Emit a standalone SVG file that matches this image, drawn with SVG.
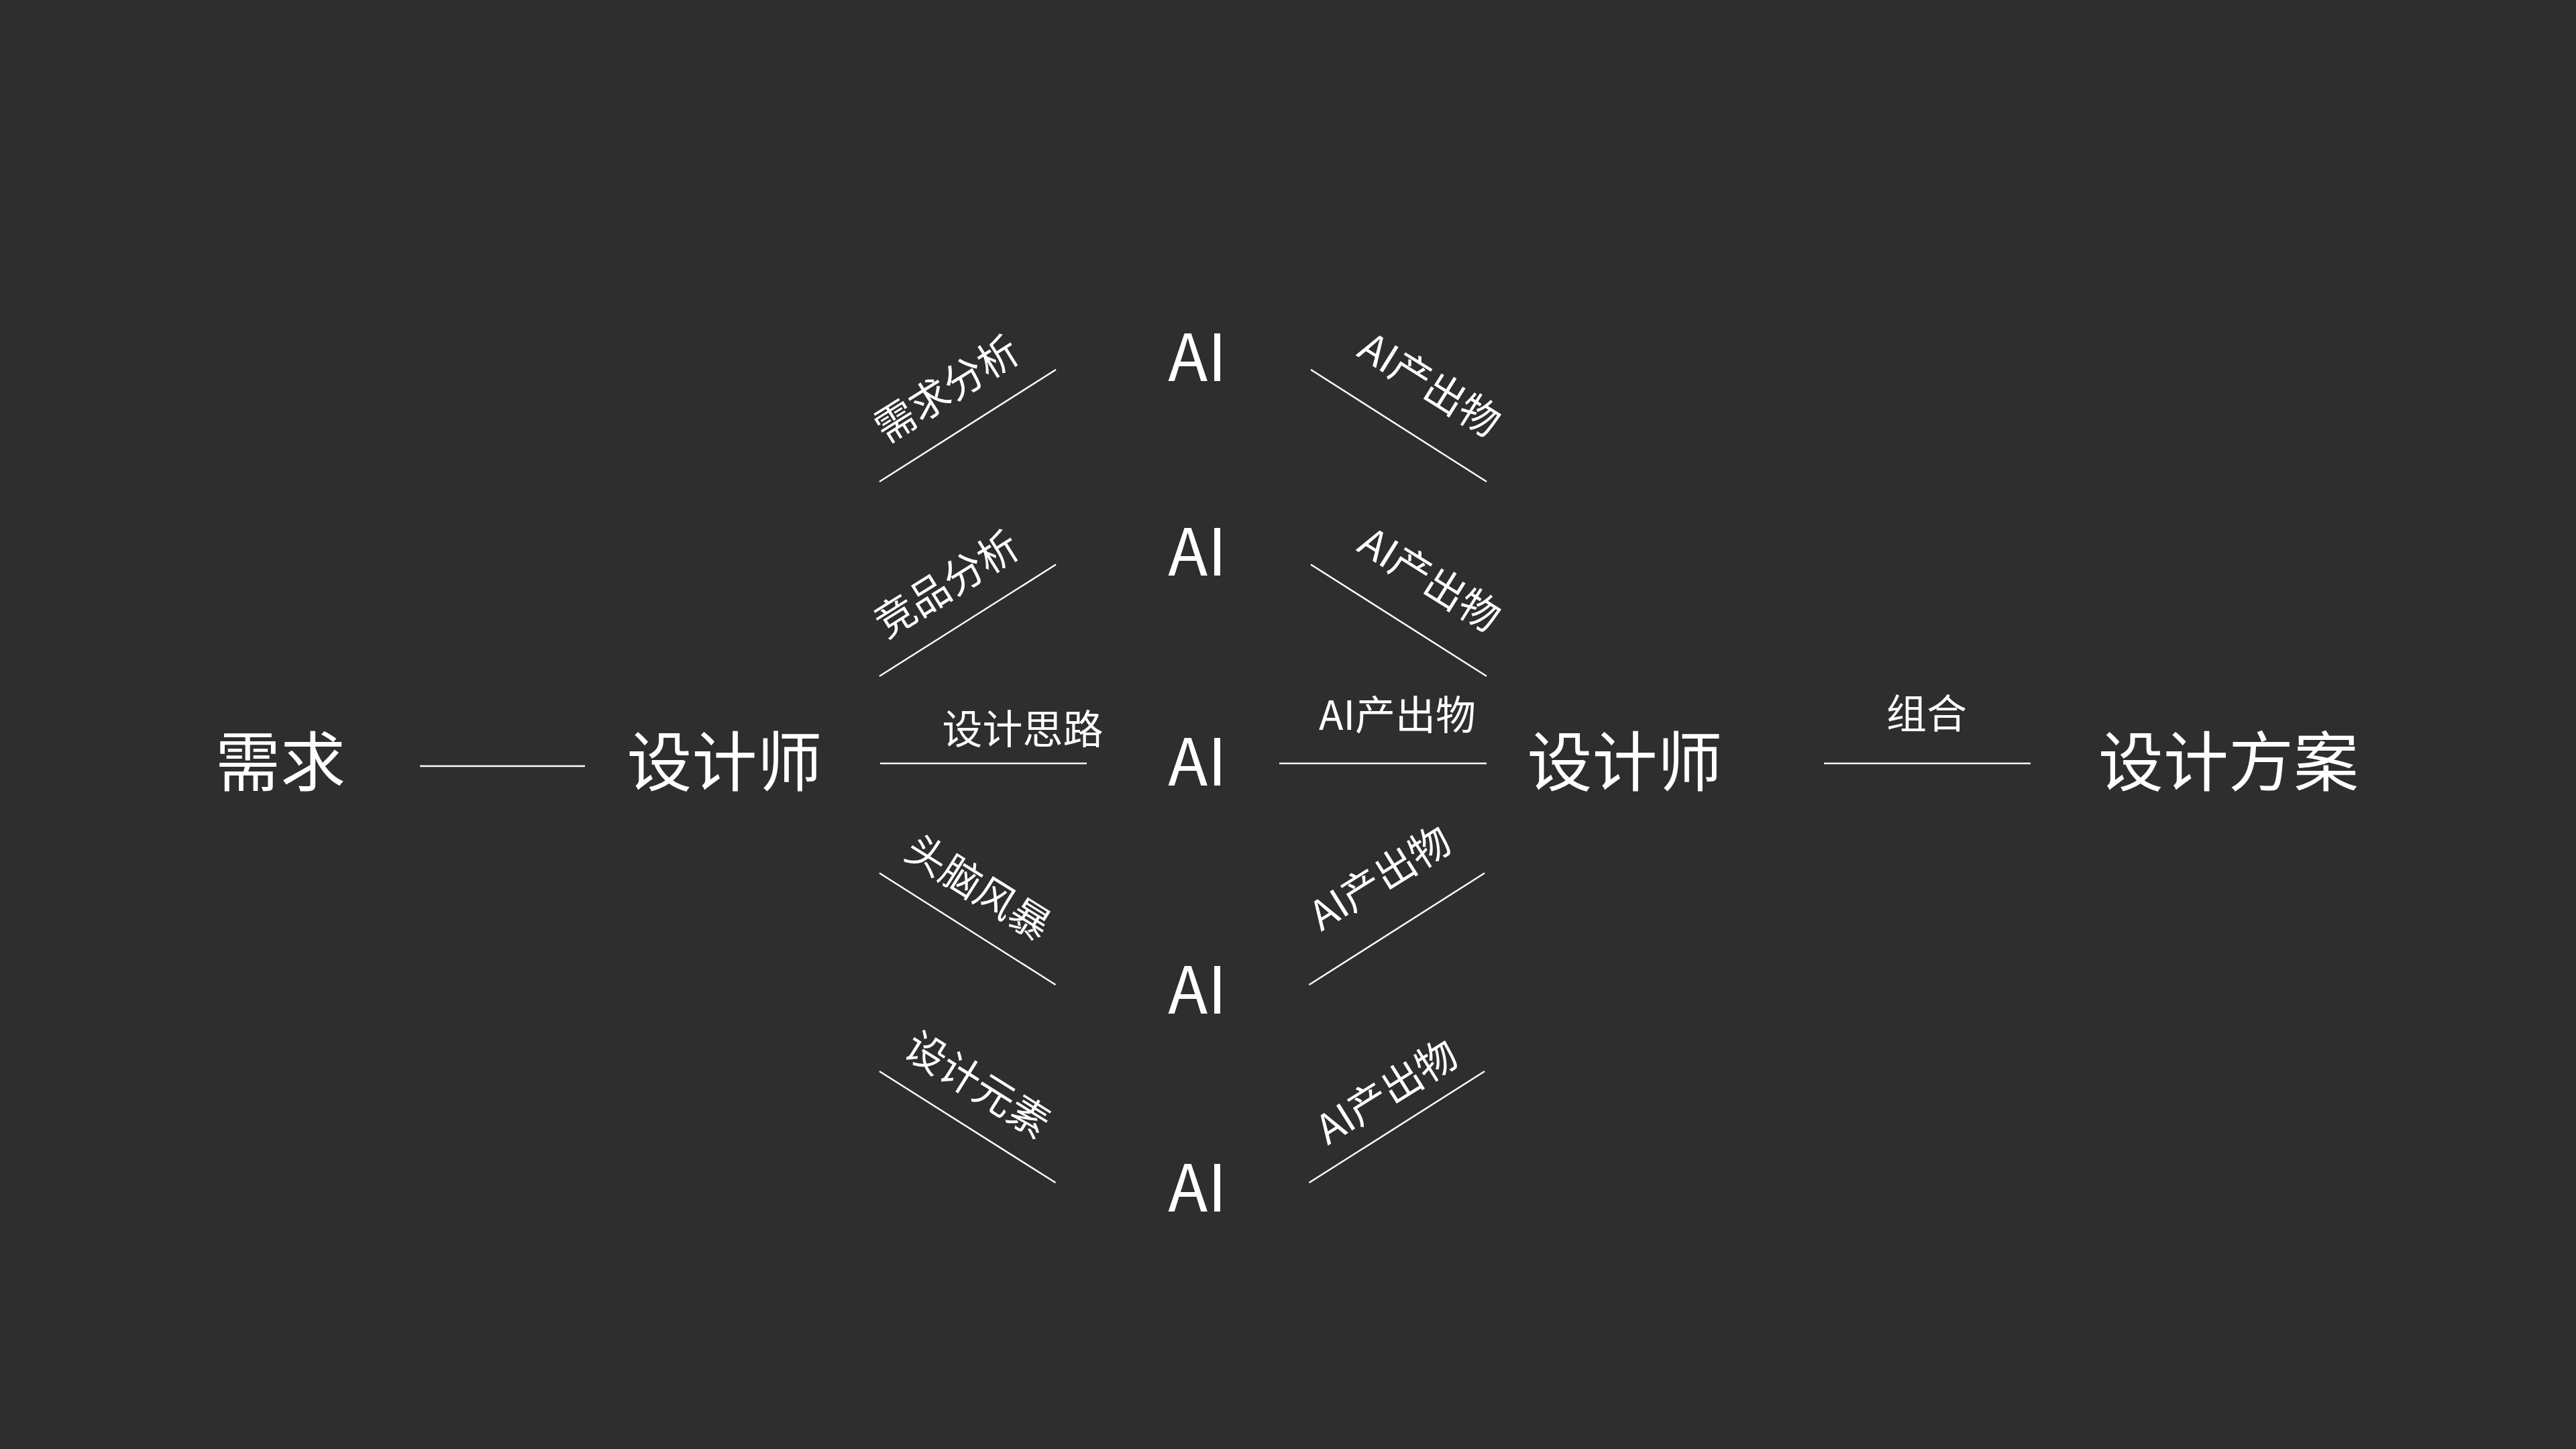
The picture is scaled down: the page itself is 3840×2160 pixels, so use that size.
<svg xmlns="http://www.w3.org/2000/svg" width="3840" height="2160" viewBox="0 0 3840 2160">
<style>
text{font-family:"Noto Sans CJK SC","Noto Sans",sans-serif;fill:#ffffff;text-anchor:middle}
.big{font-size:97px}
.lbl{font-size:60px}
.ln{stroke:#ffffff;stroke-width:2.5;fill:none}
</style>
<rect width="3840" height="2160" fill="#2e2e2e"/>
<g id="connectors">
<line class="ln" x1="626" y1="1142" x2="872" y2="1142"/>
<line class="ln" x1="1311" y1="718" x2="1574" y2="551"/>
<line class="ln" x1="1311" y1="1008" x2="1574" y2="841.5"/>
<line class="ln" x1="1312" y1="1138" x2="1620" y2="1138"/>
<line class="ln" x1="1311" y1="1301.5" x2="1573.5" y2="1468"/>
<line class="ln" x1="1311" y1="1597" x2="1573.5" y2="1763"/>
<line class="ln" x1="1954" y1="551" x2="2216" y2="718"/>
<line class="ln" x1="1954" y1="841.5" x2="2216" y2="1008"/>
<line class="ln" x1="1907" y1="1138" x2="2216" y2="1138"/>
<line class="ln" x1="1951.5" y1="1468" x2="2213" y2="1301.5"/>
<line class="ln" x1="1951.5" y1="1763" x2="2213" y2="1597"/>
<line class="ln" x1="2719" y1="1138" x2="3027" y2="1138"/>
</g>
<g id="edge-labels">
<g transform="translate(1410.5,578.6) rotate(-32)"><text class="lbl" x="0" y="23">需求分析</text></g>
<g transform="translate(1410.5,869.5) rotate(-32)"><text class="lbl" x="0" y="23">竞品分析</text></g>
<text class="lbl" x="1524.5" y="1109">设计思路</text>
<g transform="translate(1459,1321.7) rotate(32)"><text class="lbl" x="0" y="23">头脑风暴</text></g>
<g transform="translate(1458,1615.6) rotate(32)"><text class="lbl" x="0" y="23">设计元素</text></g>
<g transform="translate(2132,572) rotate(32)"><text class="lbl" x="0" y="23">AI产出物</text></g>
<g transform="translate(2132,862.5) rotate(32)"><text class="lbl" x="0" y="23">AI产出物</text></g>
<text class="lbl" x="2083" y="1088">AI产出物</text>
<g transform="translate(2056.5,1307.4) rotate(-32)"><text class="lbl" x="0" y="23">AI产出物</text></g>
<g transform="translate(2066.4,1626.2) rotate(-32)"><text class="lbl" x="0" y="23">AI产出物</text></g>
<text class="lbl" x="2872" y="1086">组合</text>
</g>
<g id="node-demand"><text class="big" x="418" y="1171">需求</text></g>
<g id="node-designer-1"><text class="big" x="1080" y="1171">设计师</text></g>
<g id="node-ai-1"><text class="big" x="1785" y="568">AI</text></g>
<g id="node-ai-2"><text class="big" x="1785" y="858">AI</text></g>
<g id="node-ai-3"><text class="big" x="1785" y="1171">AI</text></g>
<g id="node-ai-4"><text class="big" x="1785" y="1511">AI</text></g>
<g id="node-ai-5"><text class="big" x="1785" y="1806">AI</text></g>
<g id="node-designer-2"><text class="big" x="2422" y="1171">设计师</text></g>
<g id="node-plan"><text class="big" x="3322" y="1171">设计方案</text></g>
</svg>
